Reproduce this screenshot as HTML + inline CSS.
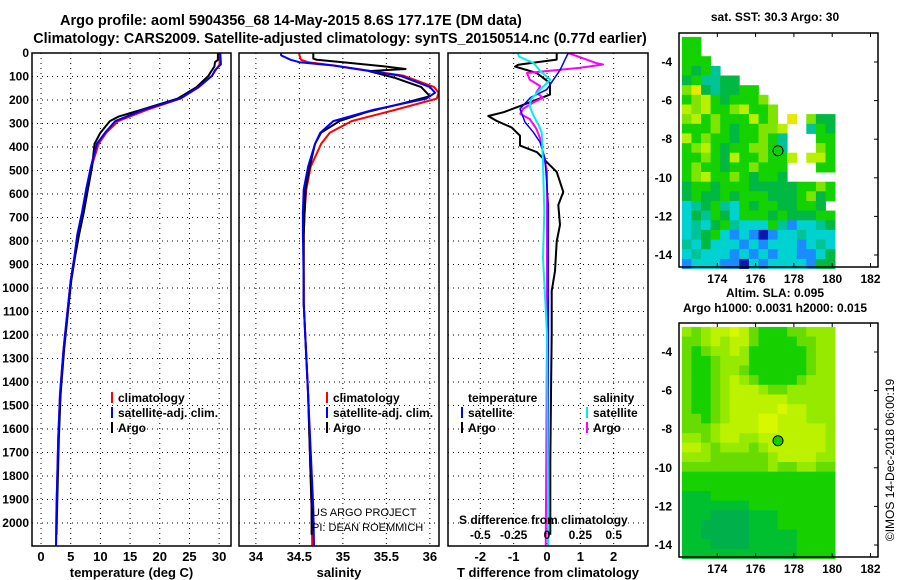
<!DOCTYPE html>
<html><head><meta charset="utf-8"><style>
html,body{margin:0;padding:0;background:#fff;}
svg{display:block;font-family:"Liberation Sans",Arial,sans-serif;font-weight:bold;}
</style></head><body>
<svg id="c" width="900" height="580" viewBox="0 0 900 580"></svg>
<script>
// ---- profile data ----
const tClimDepth=[0,48,73,97,145,194,242,290,339,387,484,581,678,775,871,968,1065,1258,1452,1646,1936,2143];
const tClim=[30.0,30.1,29.4,28.8,26.6,23.5,17.8,13.0,11.0,9.7,8.5,7.7,7.0,6.2,5.6,5.0,4.6,3.8,3.2,2.9,2.6,2.5];
const tSat=[30.2,30.3,29.3,28.8,26.5,23.4,17.2,12.5,10.8,9.4,8.4,7.6,6.9,6.1,5.6,5.0,4.6,3.8,3.2,2.9,2.6,2.5];
const tArgoDepth=[0,29,39,58,77,97,145,194,242,271,290,339,387,436,484,581,678,775,871,968,1065,1258,1452,1646,1936,2050];
const tArgo=[29.8,29.8,29.3,29.2,28.7,28.2,26.2,23.0,16.8,13.0,11.6,10.0,9.0,8.8,8.6,7.9,7.2,6.4,5.7,5.1,4.7,3.9,3.3,3.0,2.7,2.6];
const sClimDepth=[0,10,29,39,53,97,145,169,194,242,290,339,387,484,581,678,775,968,1065,1452,1936,2143];
const sClim=[34.5,34.5,34.52,34.6,34.9,35.7,36.05,36.1,36.08,35.6,35.1,34.85,34.75,34.63,34.58,34.56,34.55,34.55,34.55,34.6,34.64,34.65];
const sSat=[34.29,34.29,34.4,34.5,34.89,35.66,36.0,36.06,35.96,35.35,34.89,34.74,34.68,34.6,34.55,34.54,34.54,34.55,34.55,34.6,34.66,34.67];
const sArgoDepth=[0,24,29,39,58,68,77,106,145,184,213,252,290,339,387,484,581,775,1065,1452,1936,2050];
const sArgo=[34.66,34.66,34.7,35.0,35.5,35.72,35.3,35.6,35.9,36.0,35.7,35.27,34.96,34.75,34.68,34.62,34.57,34.55,34.55,34.6,34.64,34.64];
const dTArgoDepth=[0,28,39,50,58,85,128,177,226,252,268,290,317,352,394,422,465,506,591,647,731,802,928,1013,1194,1452,1742,2050];
const dTArgo=[0.29,0.29,-0.31,-0.86,-0.96,-0.31,0.09,0.09,-0.81,-1.3,-1.76,-1.5,-1.06,-0.81,-0.81,-0.3,0.0,0.29,0.49,0.34,0.39,0.29,0.24,0.14,0.14,0.12,0.1,0.1];
const dTSatDepth=[0,28,73,114,155,190,238,294,337,379,449,647,1194,2143];
const dTSat=[0.64,0.54,0.39,0.19,0.0,-0.5,-0.81,-0.66,-0.41,-0.21,-0.06,0.04,0.04,0.03];
const dSArgoDepth=[0,43,49,63,85,113,141,169,190,210,238,259,281,322,365,506,1194,2143];
const dSArgo=[0.16,0.37,0.42,0.25,-0.15,-0.13,-0.05,-0.08,-0.03,-0.10,-0.18,-0.20,-0.13,-0.08,-0.05,0.0,0.0,-0.01];
const dSSatDepth=[0,15,43,77,113,155,197,226,268,310,339,465,678,871,1194,2143];
const dSSat=[-0.22,-0.21,-0.10,-0.05,0.025,-0.05,-0.12,-0.13,-0.10,-0.06,-0.04,-0.03,-0.02,-0.03,0.0,0.01];
const depthTicks=[0,100,200,300,400,500,600,700,800,900,1000,1100,1200,1300,1400,1500,1600,1700,1800,1900,2000];
const tTicks=[0,5,10,15,20,25,30];
const sTicks=[34,34.5,35,35.5,36];
const dTTicks=[-2,-1,0,1,2];
const dSTicks=[-0.5,-0.25,0,0.25,0.5];
const dSTickLabels=["-0.5","-0.25","0","0.25","0.5"];
// ---- map data (0.5 deg cells, rows from lat -2.7 downward, cols from lon 172.15) ----
const sstRows=["GG..............","GG..............","GGG.............","GgGt............","gGttgg..........","lYgtggGG........","GlyGgGGGl.......","ylyGGlyGGl......","lyGlGGGyGl.Y.lgg","GGGlGgGGlly..tGg","yGlGGgGGlGt...GG","GlyGgGGllGt...lG","GGlGgyGGlGGy.yyG","GlGGgGGlGGG...GG","GlyGGlGgGGg.....","gGGgGGGgggggGGlG","gGggGgGGGgggGlgG","ctgGtcGgGGggGGg.","cgtGgcGGGgGgggGG","ctcgGtcccGtbcctg","ctgGcbcbBbcctccc","tcgcccbcbcccbctc","ctcccbcbcbccbbcg","bcccbbBcbccccbgg"];
const slaRows=["lLlyyYyLGGGLLlll","LLlylyyLGGGGLLll","LGLllylGGGGGGLll","LGGLlllGGGGGGLll","LGGLllLGGGGGGLll","LGGLlylLGGGGLlll","LGGLlyyylLLlllll","LGGLlyyyyyylllll","LGGLlyyyyyYyylll","LLGLlyyyYYyyylll","LLLlyyyyYYyyyyyl","llLlyyllyyyyyyyl","yylLlllLlyyyyyyl","lllLLLLLLlyyyyll","LLLLLLLLLlLLllLL","GGGGGGGGGGGGGGGG","GGGGGGGGGGGGGGGG","gggGGGGGGGGGGGGG","gggggggGGGGGGGGG","gggddddgggGGGGGG","ggdddddgggGGGGGG","ggdddddgggggGGGG","gggddddgggggGGGG","ggggggggggggGGGG"];
const lonTicks=[174,176,178,180,182];
const latTicks=[-4,-6,-8,-10,-12,-14];
const argoLon=177.17, argoLat=-8.6;

const NS="http://www.w3.org/2000/svg";
const svg=document.getElementById('c');
function el(tag,attrs,parent){const e=document.createElementNS(NS,tag);for(const k in attrs)e.setAttribute(k,attrs[k]);(parent||svg).appendChild(e);return e;}
function txt(x,y,s,anchor,size,parent,name){const t=el('text',{x:x,y:y,'text-anchor':anchor||'start','font-size':size||12},parent);t.textContent=s;


return t;}

const Y0=53,YB=546;
const yD=d=>Y0+d*0.235;
const panels=[
 {x0:32,x1:231,v0:-1.52,v1:32.0,ticks:tTicks,labels:tTicks.map(String),title:'temperature (deg C)',name:'temperature-panel'},
 {x0:239,x1:439,v0:33.806,v1:36.105,ticks:sTicks,labels:["34","34.5","35","35.5","36"],title:'salinity',name:'salinity-panel'},
 {x0:448,x1:648,v0:-2.97,v1:3.03,ticks:dTTicks,labels:dTTicks.map(String),title:'T difference from climatology',name:'difference-panel'}
];
panels.forEach(p=>{p.sx=v=>p.x0+(v-p.v0)/(p.v1-p.v0)*(p.x1-p.x0);});
const defs=el('defs',{});

// titles
txt(60,25,'Argo profile: aoml 5904356_68 14-May-2015 8.6S 177.17E (DM data)','start',14.5,null,'title-line-1');
txt(340,43,'Climatology: CARS2009. Satellite-adjusted climatology: synTS_20150514.nc (0.77d earlier)','middle',14.3,null,'title-line-2');

// y tick labels
const yl=el('g',{});
depthTicks.forEach(d=>txt(29,yD(d)+4,String(d),'end',12,yl,'depth-tick-label'));

panels.forEach((p,i)=>{
 const g=el('g',{});
 const cp=el('clipPath',{id:'cp'+i},defs);el('rect',{x:p.x0,y:Y0,width:p.x1-p.x0,height:YB-Y0},cp);
 depthTicks.forEach(d=>{if(d>0)el('line',{x1:p.x0,x2:p.x1,y1:yD(d),y2:yD(d),stroke:'#000','stroke-width':1,'stroke-dasharray':'1,4'},g);});
 p.ticks.forEach(v=>el('line',{x1:p.sx(v),x2:p.sx(v),y1:Y0,y2:YB,stroke:'#000','stroke-width':1,'stroke-dasharray':'1,4'},g));
 p.ticks.forEach((v,k)=>txt(p.sx(v),561,p.labels[k],'middle',13,g,'x-tick-label'));
 txt((p.x0+p.x1)/2,577,p.title,'middle',13,g,'x-axis-title');
 p.lg=el('g',{'clip-path':'url(#cp'+i+')'},g);
 p.g=g;
 p.frame=()=>el('rect',{x:p.x0,y:Y0,width:p.x1-p.x0,height:YB-Y0,fill:'none',stroke:'#000','stroke-width':1.5},g);
});

function line(p,depths,vals,color,w,name,scale){
 const pts=depths.map((d,k)=>p.sx(vals[k]*(scale||1)).toFixed(1)+','+yD(d).toFixed(1)).join(' ');
 const l=el('polyline',{points:pts,fill:'none',stroke:color,'stroke-width':w,'stroke-linejoin':'round'},p.lg);
 
 
}
const [P1,P2,P3]=panels;
line(P1,tClimDepth,tClim,'#f00',2,'temp-climatology-line');
line(P1,tArgoDepth,tArgo,'#000',2,'temp-argo-line');
line(P1,tClimDepth,tSat,'#00f',2,'temp-satellite-line');
line(P2,sClimDepth,sClim,'#f00',2,'sal-climatology-line');
line(P2,sArgoDepth,sArgo,'#000',2,'sal-argo-line');
line(P2,sClimDepth,sSat,'#00f',2,'sal-satellite-line');
line(P3,dTArgoDepth,dTArgo,'#000',2,'tdiff-argo-line');
line(P3,dSArgoDepth,dSArgo,'#f0f',2,'sdiff-argo-line',4);
line(P3,dTSatDepth,dTSat,'#00f',1.5,'tdiff-satellite-line');
line(P3,dSSatDepth,dSSat,'#0ee',2,'sdiff-satellite-line',4);
panels.forEach(p=>p.frame());

// legends
function leg(g,x,y,color,label,name){if(color)el('rect',{x:x-7,y:y-10,width:2,height:11,fill:color},g);const t=txt(x,y,label,'start',12,g,name);return t;}
[[P1,118],[P2,333]].forEach(([p,x])=>{
 const g=el('g',{},p.g);
 leg(g,x,402,'#f00','climatology','legend-climatology');
 leg(g,x,417,'#00f','satellite-adj. clim.','legend-satellite');
 leg(g,x,432,'#000','Argo','legend-argo');
});
{const g=el('g',{},P3.g);
 leg(g,468,402,null,'temperature','legend-temperature-heading');
 leg(g,468,417,'#00f','satellite','legend-tdiff-satellite');
 leg(g,468,432,'#000','Argo','legend-tdiff-argo');
 leg(g,593,402,null,'salinity','legend-salinity-heading');
 leg(g,593,417,'#0ee','satellite','legend-sdiff-satellite');
 leg(g,593,432,'#f0f','Argo','legend-sdiff-argo');
 txt(459,524,'S difference from climatology','start',12,g,'s-axis-title');
 dSTicks.forEach((v,k)=>txt(P3.sx(v*4),539,dSTickLabels[k],'middle',12,g,'s-tick-label'));
}
{const t=txt(312,516,'US ARGO PROJECT','start',11,null,'project-credit');t.setAttribute('font-weight','normal');
 const t2=txt(312,531,'PI: DEAN ROEMMICH','start',11,null,'pi-credit');t2.setAttribute('font-weight','normal');}

// maps
const col={'G':'#14d200','g':'#00b842','l':'#7ee400','y':'#b8f000','Y':'#e8e800','t':'#00c496','c':'#00d2d2','b':'#1a8cff','B':'#0818b0'};
const col2={'Y':'#d8f800','y':'#bcf200','l':'#96ea00','L':'#66dc00','G':'#16d000','g':'#00c030','d':'#00b04a'};
function map(top,rows,cmap,name,title1,title2){
 const g=el('g',{});
 const X0=679,X1=878;
 const mx=lon=>X0+(lon-172)*19.15;
 const my=lat=>top+29+(-4-lat)*19.3;
 rows.forEach((r,j)=>{for(let i=0;i<r.length;i++){const c=r[i];if(c==='.')continue;
  const lon=172.15+0.5*i, lat=-2.7-0.5*j;
  const cell=el('rect',{x:mx(lon).toFixed(1),y:my(lat).toFixed(1),width:(0.5*19.15+0.4).toFixed(1),height:(0.5*19.3+0.4).toFixed(1),fill:cmap[c]},g);
  
  
 }});
 el('rect',{x:X0,y:top,width:X1-X0,height:234,fill:'none',stroke:'#000','stroke-width':1.5},g);
 lonTicks.forEach(v=>{el('line',{x1:mx(v),x2:mx(v),y1:top,y2:top+4,stroke:'#000'},g);el('line',{x1:mx(v),x2:mx(v),y1:top+234,y2:top+230,stroke:'#000'},g);
  txt(mx(v),top+250,String(v),'middle',12,g,'lon-tick-label');});
 latTicks.forEach(v=>{el('line',{x1:X1,x2:X1-4,y1:my(v),y2:my(v),stroke:'#000'},g);
  txt(672,my(v)+4,String(v),'end',12,g,'lat-tick-label');});
 const m=el('circle',{cx:mx(argoLon),cy:my(argoLat),r:5,fill:'#10d000',stroke:'#000','stroke-width':1},g);
 
 
 txt(775,top-12-(title2?14:0),title1,'middle',12,g,'map-title');
 if(title2)txt(775,top-11,title2,'middle',12,g,'map-subtitle');
}
map(33,sstRows,col,'sst-map','sat. SST: 30.3 Argo: 30');
map(323,slaRows,col2,'sla-map','Altim. SLA: 0.095','Argo h1000: 0.0031 h2000: 0.015');
{const t=txt(0,0,'©IMOS 14-Dec-2018 06:00:19','middle',12,null,'imos-timestamp');t.setAttribute('font-weight','normal');t.setAttribute('transform','translate(894,460) rotate(-90)');}
</script>
</body></html>
